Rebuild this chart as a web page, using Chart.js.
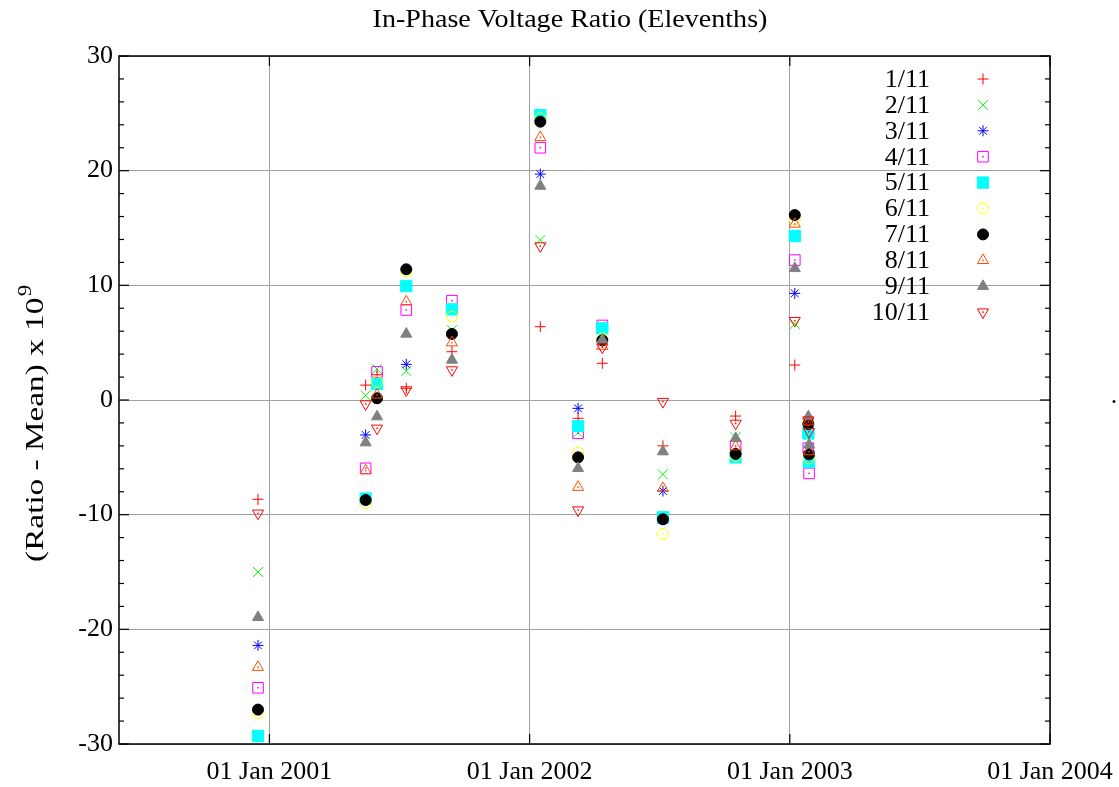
<!DOCTYPE html>
<html>
<head>
<meta charset="utf-8">
<script src="https://cdn.jsdelivr.net/npm/chart.js@4.4.1/dist/chart.umd.min.js"></script>
<style>
html,body{margin:0;padding:0;background:#ffffff;}
#wrap{width:1119px;height:787px;}
</style>
</head>
<body>
<div id="wrap"><canvas id="c" width="1119" height="787"></canvas></div>
<script>
// ---------------- data ----------------
const chartTitle = 'In-Phase Voltage Ratio (Elevenths)';
const yTitleMain = '(Ratio - Mean) x 10';
const yTitleSup = '9';

const dates = ['2000-12-16','2001-05-16','2001-06-01','2001-07-12','2001-09-14',
               '2002-01-16','2002-03-10','2002-04-13','2002-07-07','2002-10-17',
               '2003-01-08','2003-01-27','2003-01-28'];

const seriesLabels = ['1/11','2/11','3/11','4/11','5/11','6/11','7/11','8/11','9/11','10/11'];

const s1  = [ -8.66,  1.30,  2.20,  1.02, 4.21,  6.39, -1.60, 3.20,  -4.00, -1.40,  3.05, -1.60, -3.00];
const s2  = [-15.00,  0.40,  2.70,  2.53, 6.10, 13.95, -2.85, 6.25,  -6.48, -3.26,  6.63, -2.40, -3.05];
const s3  = [-21.40, -3.05,  1.40,  3.11, 5.76, 19.70, -0.73, 5.20,  -7.94, -4.70,  9.30, -2.10, -4.50];
const s4  = [-25.10, -5.96,  2.45,  7.85, 8.66, 22.00, -2.90, 6.50, -10.30, -4.00, 12.20, -4.20, -6.40];
const s5  = [-29.30, -8.60,  1.40,  9.94, 7.90, 24.85, -2.27, 6.25, -10.23, -5.00, 14.30, -2.90, -5.40];
const s6  = [-27.30, -9.00,  1.60, 11.20, 7.27, 24.56, -4.60, 5.38, -11.70, -4.88, 15.76, -2.00, -5.10];
const s7  = [-27.00, -8.72,  0.15, 11.40, 5.76, 24.27, -5.00, 5.20, -10.40, -4.70, 16.13, -2.10, -4.74];
const s8  = [-23.30, -6.16,  0.45,  8.57, 5.00, 22.90, -7.60, 4.70,  -7.70, -4.07, 15.35, -1.90, -4.50];
const s9  = [-18.95, -3.72, -1.45,  5.76, 3.49, 18.66, -5.96, 5.25,  -4.50, -3.35, 11.48, -1.45, -3.90];
const s10 = [ -9.88, -0.35, -2.47,  0.87, 2.62, 13.43, -9.60, 4.60,  -0.14, -2.04,  6.92, -1.75, -2.76];

const seriesValues = [s1,s2,s3,s4,s5,s6,s7,s8,s9,s10];

const xTickDates = ['2001-01-01','2002-01-01','2003-01-01','2004-01-01'];
const xRangeDates = ['2000-06-04','2004-01-01'];
const yMin = -30, yMax = 30, yMajorStep = 10, yMinorStep = 2;

// ---------------- styles ----------------
const FONT_FAMILY = "'Liberation Serif','Times New Roman',serif";
const FONT_SIZE = 26;
const styles = [
  {c:'#ff0000', s:'cross',    r:5.5, fill:false, dot:false, rot:0},
  {c:'#00ff00', s:'crossRot', r:7,   fill:false, dot:false, rot:0},
  {c:'#0000ff', s:'star',     r:5.5, fill:false, dot:false, rot:0},
  {c:'#ff00ff', s:'rect',     r:7.5, fill:false, dot:true,  rot:0},
  {c:'#00ffff', s:'rect',     r:8,   fill:true,  dot:false, rot:0},
  {c:'#ffff00', s:'circle',   r:5.5, fill:false, dot:true,  rot:0},
  {c:'#000000', s:'circle',   r:5.5, fill:true,  dot:false, rot:0},
  {c:'#ff4c00', s:'triangle', r:6.4, fill:false, dot:true,  rot:0},
  {c:'#808080', s:'triangle', r:6.4, fill:true,  dot:false, rot:0},
  {c:'#ff0000', s:'triangle', r:6.4, fill:false, dot:true,  rot:180}
];

const DAY = 86400000;
function toDay(s){ return Date.UTC(+s.slice(0,4), +s.slice(5,7)-1, +s.slice(8,10)) / DAY; }
const monthNames = ['Jan','Feb','Mar','Apr','May','Jun','Jul','Aug','Sep','Oct','Nov','Dec'];
function fmtDay(v){
  const d = new Date(v*DAY);
  return String(d.getUTCDate()).padStart(2,'0') + ' ' + monthNames[d.getUTCMonth()] + ' ' + d.getUTCFullYear();
}

const xDays = dates.map(toDay);
const xTickDays = xTickDates.map(toDay);

const datasets = seriesValues.map((vals, i) => {
  const st = styles[i];
  return {
    label: seriesLabels[i],
    data: vals.map((v, k) => ({x: xDays[k], y: v})),
    order: seriesValues.length - i,   // later series drawn on top
    showLine: false,
    pointStyle: st.s,
    pointRadius: st.r,
    pointHoverRadius: st.r,
    pointRotation: st.rot,
    pointBorderWidth: 1,
    pointBorderColor: st.c,
    pointBackgroundColor: st.fill ? st.c : 'rgba(0,0,0,0)',
    centerDot: st.dot,
    clip: false
  };
});

// ---------------- plugins ----------------
function line(ctx, x1, y1, x2, y2){ ctx.beginPath(); ctx.moveTo(x1,y1); ctx.lineTo(x2,y2); ctx.stroke(); }

const framePlugin = {
  id: 'frame',
  beforeDatasetsDraw(chart){
    const ctx = chart.ctx, a = chart.chartArea;
    const ys = chart.scales.y, xs = chart.scales.x;
    ctx.save();
    ctx.strokeStyle = '#000';
    ctx.lineWidth = 1.5;
    ctx.strokeRect(a.left, a.top, a.right - a.left, a.bottom - a.top);
    ctx.lineWidth = 1.2;
    for (let v = yMin; v <= yMax; v += yMinorStep){
      const py = ys.getPixelForValue(v);
      const L = (v % yMajorStep === 0) ? 10 : 5;
      line(ctx, a.left, py, a.left + L, py);
      line(ctx, a.right, py, a.right - L, py);
    }
    xTickDays.forEach(d => {
      const px = xs.getPixelForValue(d);
      line(ctx, px, a.bottom, px, a.bottom - 10);
      line(ctx, px, a.top, px, a.top + 10);
    });
    ctx.restore();
  }
};

const dotPlugin = {
  id: 'centerDots',
  afterDatasetDraw(chart, args){
    const ds = chart.data.datasets[args.index];
    if (!ds.centerDot) return;
    const ctx = chart.ctx;
    ctx.save();
    ctx.fillStyle = ds.pointBorderColor;
    args.meta.data.forEach(p => { ctx.fillRect(p.x - 0.75, p.y - 0.75, 1.5, 1.5); });
    ctx.restore();
  }
};

const textPlugin = {
  id: 'texts',
  afterDraw(chart){
    const ctx = chart.ctx;
    const font = FONT_SIZE + 'px ' + FONT_FAMILY;
    ctx.save();
    ctx.fillStyle = '#000';
    // main title
    ctx.save();
    ctx.translate(570, 20);
    ctx.scale(1.08, 1);
    ctx.font = font;
    ctx.textAlign = 'center';
    ctx.textBaseline = 'middle';
    ctx.fillText(chartTitle, 0, 0);
    ctx.restore();
    // y-axis title with superscript
    ctx.save();
    ctx.translate(36, 424);
    ctx.rotate(-Math.PI/2);
    ctx.scale(1.28, 1);
    ctx.font = font;
    const w1 = ctx.measureText(yTitleMain).width;
    ctx.font = '18px ' + FONT_FAMILY;
    const w2 = ctx.measureText(yTitleSup).width;
    const start = -(w1 + w2)/2;
    ctx.textAlign = 'left';
    ctx.textBaseline = 'middle';
    ctx.font = font;
    ctx.fillText(yTitleMain, start, 0);
    ctx.font = '18px ' + FONT_FAMILY;
    ctx.fillText(yTitleSup, start + w1 + 1, -10);
    ctx.restore();
    // stray dot at right
    ctx.font = font;
    ctx.textAlign = 'center';
    ctx.textBaseline = 'alphabetic';
    ctx.fillText('.', 1114, 403);
    // legend
    chart.data.datasets.forEach((ds, i) => {
      const yy = 79 + i * 25.9;
      ctx.font = font;
      ctx.textAlign = 'right';
      ctx.textBaseline = 'middle';
      ctx.fillStyle = '#000';
      ctx.fillText(ds.label, 930, yy + 1);
      ctx.save();
      ctx.fillStyle = ds.pointBackgroundColor;
      ctx.strokeStyle = ds.pointBorderColor;
      ctx.lineWidth = 1;
      Chart.helpers.drawPoint(ctx, {pointStyle: ds.pointStyle, radius: ds.pointRadius, rotation: ds.pointRotation || 0, borderWidth: 1}, 983, yy);
      if (ds.centerDot){ ctx.fillStyle = ds.pointBorderColor; ctx.fillRect(983 - 0.75, yy - 0.75, 1.5, 1.5); }
      ctx.restore();
    });
    ctx.restore();
  }
};

// ---------------- chart ----------------
new Chart(document.getElementById('c'), {
  type: 'scatter',
  data: { datasets },
  options: {
    responsive: false,
    devicePixelRatio: 1,
    animation: false,
    events: [],
    layout: { padding: { left: 0, right: 69, top: 56, bottom: 0 } },
    plugins: { legend: { display: false }, title: { display: false }, tooltip: { enabled: false } },
    scales: {
      x: {
        type: 'linear',
        min: toDay(xRangeDates[0]),
        max: toDay(xRangeDates[1]),
        afterBuildTicks: (axis) => { axis.ticks = xTickDays.map(v => ({value: v})); },
        afterFit: (scale) => { scale.height = 43; scale.paddingLeft = 0; scale.paddingRight = 0; },
        grid: { color: '#a0a0a0', lineWidth: 1, drawTicks: false },
        border: { display: false },
        ticks: {
          autoSkip: false, maxRotation: 0, minRotation: 0, padding: 13,
          color: '#000', font: { family: FONT_FAMILY, size: FONT_SIZE },
          callback: (v) => fmtDay(v)
        }
      },
      y: {
        min: yMin, max: yMax,
        afterFit: (scale) => { scale.width = 119; scale.paddingTop = 0; scale.paddingBottom = 0; },
        grid: { color: '#a0a0a0', lineWidth: 1, drawTicks: false },
        border: { display: false },
        ticks: {
          stepSize: yMajorStep, padding: 6,
          color: '#000', font: { family: FONT_FAMILY, size: FONT_SIZE }
        }
      }
    }
  },
  plugins: [framePlugin, dotPlugin, textPlugin]
});
</script>
</body>
</html>
